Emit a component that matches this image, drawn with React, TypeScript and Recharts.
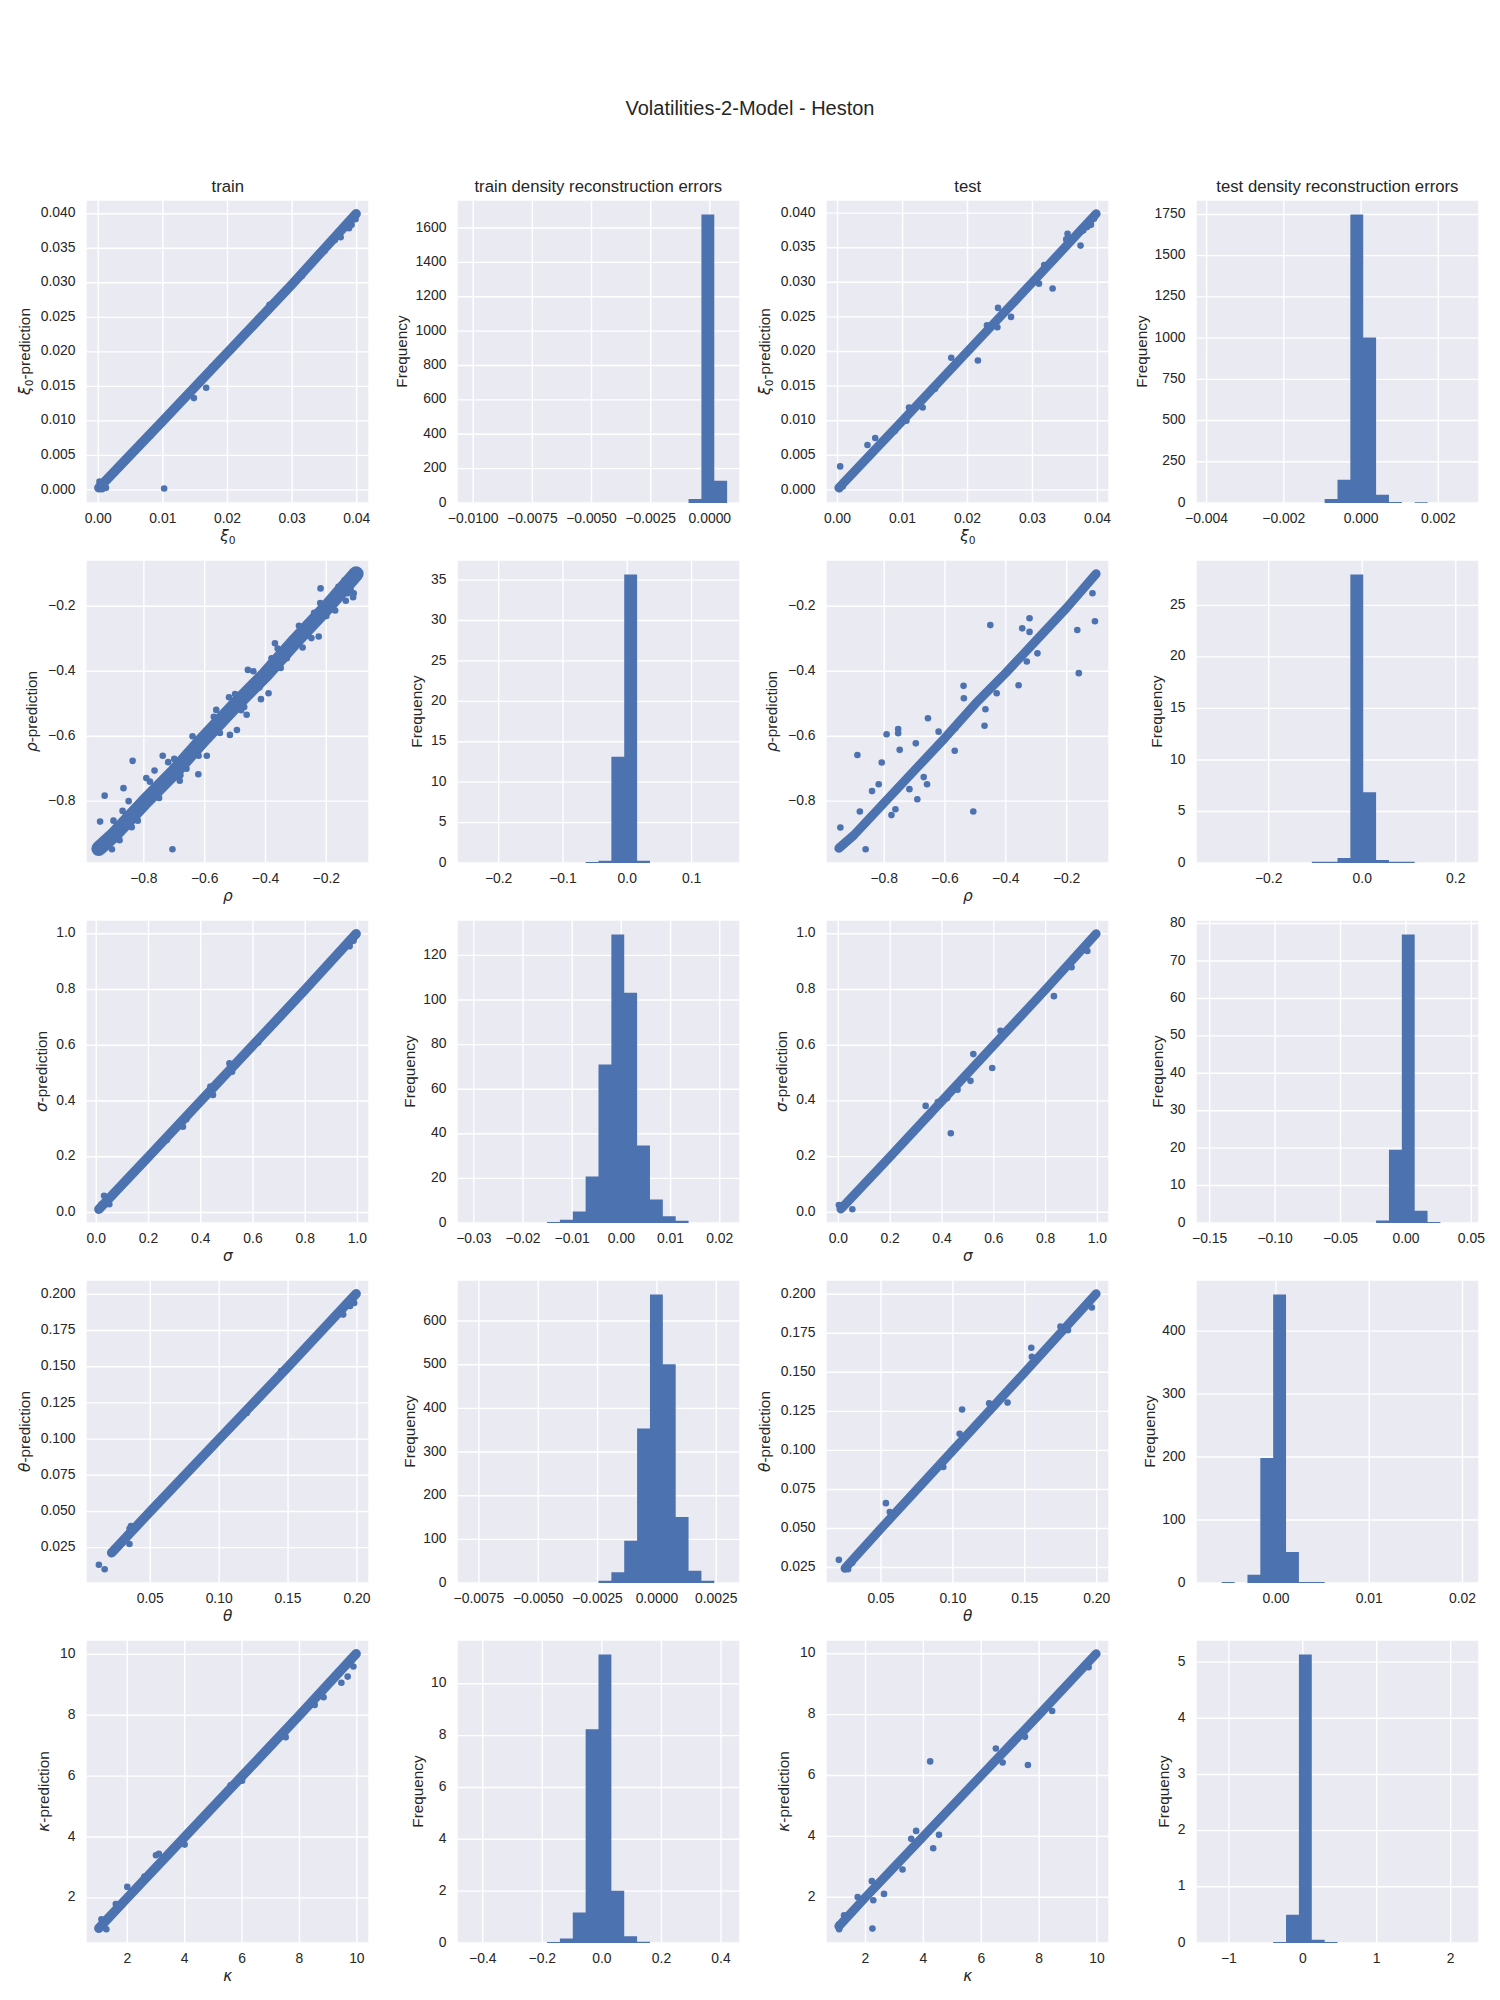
import React from 'react';
import { ComposedChart, Line, Scatter, Area, XAxis, YAxis, CartesianGrid } from 'recharts';

const BLUE = '#4C72B0';
const BG = '#EAEAF2';
const INK = '#262626';
const FONT = '"Liberation Sans", Arial, sans-serif';
const MATH = '"DejaVu Sans", sans-serif';

// ---- labels ----
const figureTitle = 'Volatilities-2-Model - Heston';
const columnTitles = ['train', 'train density reconstruction errors', 'test', 'test density reconstruction errors'];
const paramSymbols = ['ξ', 'ρ', 'σ', 'θ', 'κ'];
const paramSubscripts = ['0', '', '', '', ''];

// ---- xi0 ----
const xiTrainBand = [[0.0001, 0.0003], [0.01, 0.01], [0.02, 0.0199], [0.03, 0.0298], [0.0399, 0.04]];
const xiTrainPoints = [
  [0.0102, 0.0002], [0.0148, 0.0133], [0.0167, 0.0148], [0.0002, 0.0012], [0.0006, 0.0001], [0.0012, 0.0003],
  [0.0003, 0.0006], [0.001, 0.001], [0.0392, 0.0384], [0.0388, 0.0379], [0.0398, 0.0392], [0.0375, 0.0366],
  [0.0366, 0.0362], [0.035, 0.0346], [0.0315, 0.031], [0.0283, 0.0279], [0.0265, 0.0268], [0.0225, 0.0226],
  [0.0176, 0.0178], [0.0081, 0.0079], [0.0065, 0.0066], [0.003, 0.0033],
];
const xiTestBand = [[0.0002, 0.0003], [0.01, 0.01], [0.02, 0.02], [0.03, 0.03], [0.0398, 0.0399]];
const xiTestPoints = [
  [0.0004, 0.0034], [0.0046, 0.0065], [0.0058, 0.0075], [0.0106, 0.01], [0.011, 0.0119], [0.0131, 0.0119],
  [0.0175, 0.0191], [0.0216, 0.0187], [0.0247, 0.0263], [0.0246, 0.0235], [0.0267, 0.025], [0.031, 0.0298],
  [0.0331, 0.0291], [0.0354, 0.037], [0.0374, 0.0353], [0.0352, 0.0362], [0.0318, 0.0325], [0.023, 0.0238],
  [0.015, 0.0146], [0.0088, 0.0085], [0.0003, 0.0001], [0.0008, 0.0005], [0.0395, 0.0392], [0.039, 0.0383],
  [0.0384, 0.038], [0.0378, 0.0375],
];
const xiTrainErrRange = [-0.01014, 0.00073];
const xiTrainErrCounts = [0, 0, 0, 0, 0, 0, 0, 0, 0, 0, 0, 0, 0, 0, 0, 0, 0, 23, 1679, 130];
const xiTestErrRange = [-0.00394, 0.00272];
const xiTestErrCounts = [0, 0, 0, 0, 0, 0, 0, 0, 0, 25, 141, 1750, 1004, 50, 6, 0, 5, 0, 0, 0];

// ---- rho ----
const rhoTrainBand = [[-0.948, -0.946], [-0.9, -0.905], [-0.8, -0.805], [-0.7, -0.71], [-0.6, -0.605], [-0.5, -0.505], [-0.4, -0.41], [-0.3, -0.305], [-0.2, -0.205], [-0.102, -0.1]];
const rhoTrainPoints = [
  [-0.219, -0.145], [-0.11, -0.16], [-0.112, -0.172], [-0.136, -0.183], [-0.171, -0.213], [-0.225, -0.293],
  [-0.249, -0.298], [-0.278, -0.327], [-0.369, -0.314], [-0.458, -0.396], [-0.39, -0.468], [-0.415, -0.486],
  [-0.494, -0.581], [-0.517, -0.596], [-0.462, -0.534], [-0.562, -0.519], [-0.593, -0.66], [-0.621, -0.717],
  [-0.682, -0.737], [-0.738, -0.66], [-0.837, -0.676], [-0.792, -0.729], [-0.765, -0.706], [-0.867, -0.76],
  [-0.929, -0.783], [-0.944, -0.863], [-0.706, -0.948], [-0.905, -0.948], [-0.9, -0.86], [-0.88, -0.92],
  [-0.85, -0.8], [-0.82, -0.86], [-0.78, -0.74], [-0.75, -0.79], [-0.72, -0.68], [-0.68, -0.72], [-0.64, -0.6],
  [-0.62, -0.66], [-0.57, -0.54], [-0.55, -0.59], [-0.52, -0.48], [-0.47, -0.51], [-0.44, -0.4], [-0.42, -0.45],
  [-0.36, -0.33], [-0.33, -0.36], [-0.29, -0.26], [-0.26, -0.29], [-0.22, -0.19], [-0.18, -0.21], [-0.14, -0.12],
  [-0.12, -0.15], [-0.87, -0.83], [-0.84, -0.88], [-0.7, -0.67], [-0.66, -0.7], [-0.5, -0.47], [-0.48, -0.52],
  [-0.38, -0.36], [-0.35, -0.39], [-0.24, -0.22], [-0.2, -0.23], [-0.16, -0.14], [-0.13, -0.16],
];
const rhoTestBand = [[-0.949, -0.945], [-0.9, -0.905], [-0.8, -0.805], [-0.7, -0.705], [-0.6, -0.605], [-0.5, -0.5], [-0.4, -0.405], [-0.3, -0.305], [-0.2, -0.205], [-0.103, -0.1]];
const rhoTestPoints = [
  [-0.451, -0.258], [-0.322, -0.237], [-0.346, -0.268], [-0.322, -0.279], [-0.165, -0.273], [-0.107, -0.246],
  [-0.115, -0.16], [-0.16, -0.406], [-0.358, -0.443], [-0.331, -0.37], [-0.296, -0.345], [-0.539, -0.445],
  [-0.538, -0.483], [-0.43, -0.468], [-0.467, -0.517], [-0.47, -0.568], [-0.568, -0.645], [-0.656, -0.545],
  [-0.754, -0.578], [-0.754, -0.591], [-0.792, -0.594], [-0.749, -0.642], [-0.696, -0.622], [-0.808, -0.681],
  [-0.888, -0.658], [-0.818, -0.748], [-0.84, -0.769], [-0.88, -0.832], [-0.944, -0.881], [-0.861, -0.948],
  [-0.776, -0.843], [-0.763, -0.825], [-0.691, -0.794], [-0.67, -0.726], [-0.659, -0.748], [-0.717, -0.763],
  [-0.507, -0.832], [-0.566, -0.575], [-0.621, -0.586],
];
const rhoTrainErrRange = [-0.2447, 0.1553];
const rhoTrainErrCounts = [0, 0, 0, 0, 0, 0, 0, 0, 0, 0.12, 0.29, 13.15, 35.7, 0.29, 0, 0, 0, 0, 0, 0];
const rhoTestErrRange = [-0.3279, 0.2222];
const rhoTestErrCounts = [0, 0, 0, 0, 0, 0, 0, 0, 0.12, 0.12, 0.48, 28.0, 6.87, 0.3, 0.12, 0.12, 0, 0, 0, 0];

// ---- sigma ----
const sigmaTrainBand = [[0.01, 0.012], [0.2, 0.2], [0.4, 0.4], [0.6, 0.6], [0.8, 0.8], [0.995, 1.0]];
const sigmaTrainPoints = [
  [0.332, 0.308], [0.345, 0.335], [0.447, 0.422], [0.437, 0.452], [0.51, 0.535], [0.52, 0.505], [0.03, 0.06],
  [0.02, 0.03], [0.05, 0.03], [0.985, 0.975], [0.97, 0.955], [0.27, 0.26], [0.62, 0.61],
];
const sigmaTestBand = [[0.01, 0.012], [0.2, 0.2], [0.4, 0.4], [0.6, 0.6], [0.8, 0.8], [0.995, 1.0]];
const sigmaTestPoints = [
  [0.337, 0.382], [0.369, 0.37], [0.352, 0.347], [0.434, 0.284], [0.51, 0.472], [0.521, 0.568], [0.594, 0.518],
  [0.832, 0.776], [0.626, 0.652], [0.384, 0.396], [0.054, 0.011], [0.002, 0.026], [0.961, 0.938], [0.42, 0.41],
  [0.46, 0.44], [0.9, 0.88],
];
const sigmaTrainErrRange = [-0.0308, 0.0215];
const sigmaTrainErrCounts = [0, 0, 0, 0, 0, 0, 0.45, 1.5, 5.2, 20.9, 71.1, 129.4, 103.2, 34.7, 10.5, 3.0, 1.0, 0, 0, 0];
const sigmaTestErrRange = [-0.1506, 0.046];
const sigmaTestErrCounts = [0, 0, 0, 0, 0, 0, 0, 0, 0, 0, 0, 0, 0, 0.7, 19.6, 77.1, 3.3, 0.27, 0, 0];

// ---- theta ----
const thetaTrainBand = [[0.022, 0.0215], [0.05, 0.05], [0.1, 0.1], [0.15, 0.15], [0.1994, 0.2004]];
const thetaTrainPoints = [
  [0.0127, 0.0132], [0.0169, 0.0101], [0.0349, 0.0275], [0.035, 0.038], [0.036, 0.04], [0.028, 0.027],
  [0.025, 0.024], [0.195, 0.192], [0.198, 0.194], [0.19, 0.186], [0.12, 0.118], [0.145, 0.147],
];
const thetaTestBand = [[0.025, 0.0245], [0.05, 0.05], [0.1, 0.1], [0.15, 0.15], [0.1996, 0.2003]];
const thetaTestPoints = [
  [0.0207, 0.0299], [0.0271, 0.0239], [0.0534, 0.0662], [0.0561, 0.0605], [0.1064, 0.1262], [0.138, 0.1306],
  [0.1545, 0.1657], [0.1549, 0.16], [0.1748, 0.1793], [0.0933, 0.0894], [0.1252, 0.1302], [0.1966, 0.1915],
  [0.1047, 0.1106], [0.03, 0.028], [0.18, 0.177],
];
const thetaTrainErrRange = [-0.00788, 0.00296];
const thetaTrainErrCounts = [0, 0, 0, 0, 0, 0, 0, 0, 0, 0, 5.4, 24.5, 97, 354, 661, 501, 151, 28, 5.4, 0];
const thetaTestErrRange = [-0.00719, 0.02039];
const thetaTestErrCounts = [0, 1.6, 0, 13.2, 198.7, 458.3, 49.3, 1.6, 1.6, 0, 0, 0, 0, 0, 0, 0, 0, 0, 0, 0];

// ---- kappa ----
const kappaTrainBand = [[1.01, 1.0], [2, 2], [4, 4], [6, 6], [8, 8], [9.975, 10.02]];
const kappaTrainPoints = [
  [9.46, 9.07], [9.88, 9.6], [9.68, 9.27], [8.84, 8.59], [8.53, 8.34], [7.52, 7.28], [3.0, 3.4], [3.1, 3.45],
  [2.0, 2.36], [1.27, 0.97], [1.02, 0.97], [1.1, 1.3], [1.6, 1.8], [2.6, 2.7], [4.0, 3.75], [5.6, 5.7], [6.0, 5.85],
];
const kappaTestBand = [[1.08, 1.05], [2, 2], [4, 4], [6, 6], [8, 8], [9.97, 10.0]];
const kappaTestPoints = [
  [4.235, 6.464], [7.613, 6.344], [6.504, 6.89], [6.74, 6.43], [4.54, 4.05], [4.34, 3.61], [3.75, 4.18],
  [3.58, 3.92], [3.28, 2.91], [2.64, 2.11], [2.24, 0.97], [2.27, 1.9], [2.22, 2.53], [1.73, 2.01], [1.26, 1.41],
  [1.08, 1.1], [1.09, 0.95], [7.51, 7.27], [8.45, 8.12], [9.71, 9.56], [7.86, 7.87],
];
const kappaTrainErrRange = [-0.4433, 0.4205];
const kappaTrainErrCounts = [0, 0, 0, 0, 0, 0, 0.04, 0.17, 1.18, 8.24, 11.13, 2.02, 0.26, 0.05, 0, 0, 0, 0, 0, 0];
const kappaTestErrRange = [-1.271, 2.21];
const kappaTestErrCounts = [0, 0, 0, 0, 0, 0.02, 0.505, 5.137, 0.06, 0.02, 0, 0, 0, 0, 0, 0, 0, 0, 0, 0];

// ---- ticks ----
const xiTicks = [0, 0.01, 0.02, 0.03, 0.04];
const xiPredTicks = [0, 0.005, 0.01, 0.015, 0.02, 0.025, 0.03, 0.035, 0.04];
const rhoTicks = [-0.8, -0.6, -0.4, -0.2];
const sigmaTicks = [0, 0.2, 0.4, 0.6, 0.8, 1.0];
const thetaTicks = [0.05, 0.1, 0.15, 0.2];
const thetaPredTicks = [0.025, 0.05, 0.075, 0.1, 0.125, 0.15, 0.175, 0.2];
const kappaTicks = [2, 4, 6, 8, 10];

// layout
const COL_LEFT = [86.3, 456.8, 826.3, 1195.9];
const ROW_TOP = [200, 560, 920, 1280, 1640];
const PLOT_W = 283;
const PLOT_H = 303;
const YW = 80;
const XH = 30;
const PAD = 10;
const LABEL_OFFSET = [
  [60.8, 54.1, 60.8, 53.2],
  [53.8, 39.2, 53.8, 38.3],
  [43.9, 46.5, 43.9, 37.9],
  [61.3, 46.5, 61.3, 45.6],
  [41.4, 38.8, 41.4, 31.1],
];

const padded = (vals: number[]) => {
  const lo = Math.min(...vals);
  const hi = Math.max(...vals);
  const r = hi - lo;
  return [lo - r * 0.05, hi + r * 0.05];
};

const scatterPanel = (band: number[][], pts: number[][], bandWidth: number, xTicks: number[], yTicks: number[], xDec: number, yDec: number) => {
  const all = band.concat(pts);
  return {
    kind: 'scatter',
    band: band.map(([x, y]) => ({ x, y })),
    points: pts.map(([x, y]) => ({ x, y })),
    bandWidth,
    xDomain: padded(all.map((p) => p[0])),
    yDomain: padded(all.map((p) => p[1])),
    xTicks, yTicks, xDec, yDec,
  };
};

const histPanel = (range: number[], counts: number[], xTicks: number[], yTicks: number[], xDec: number) => {
  const [lo, hi] = range;
  const w = (hi - lo) / counts.length;
  const steps = counts.map((c, i) => ({ x: lo + i * w, y: c }));
  steps.push({ x: hi, y: counts[counts.length - 1] });
  return {
    kind: 'hist',
    steps,
    xDomain: [lo - (hi - lo) * 0.05, hi + (hi - lo) * 0.05],
    yDomain: [0, Math.max(...counts) * 1.05],
    xTicks, yTicks, xDec, yDec: 0,
  };
};

const rows = [
  [
    scatterPanel(xiTrainBand, xiTrainPoints, 9.5, xiTicks, xiPredTicks, 2, 3),
    histPanel(xiTrainErrRange, xiTrainErrCounts, [-0.01, -0.0075, -0.005, -0.0025, 0], [0, 200, 400, 600, 800, 1000, 1200, 1400, 1600], 4),
    scatterPanel(xiTestBand, xiTestPoints, 9, xiTicks, xiPredTicks, 2, 3),
    histPanel(xiTestErrRange, xiTestErrCounts, [-0.004, -0.002, 0, 0.002], [0, 250, 500, 750, 1000, 1250, 1500, 1750], 3),
  ],
  [
    scatterPanel(rhoTrainBand, rhoTrainPoints, 15, rhoTicks, rhoTicks, 1, 1),
    histPanel(rhoTrainErrRange, rhoTrainErrCounts, [-0.2, -0.1, 0, 0.1], [0, 5, 10, 15, 20, 25, 30, 35], 1),
    scatterPanel(rhoTestBand, rhoTestPoints, 9, rhoTicks, rhoTicks, 1, 1),
    histPanel(rhoTestErrRange, rhoTestErrCounts, [-0.2, 0, 0.2], [0, 5, 10, 15, 20, 25], 1),
  ],
  [
    scatterPanel(sigmaTrainBand, sigmaTrainPoints, 9.5, sigmaTicks, sigmaTicks, 1, 1),
    histPanel(sigmaTrainErrRange, sigmaTrainErrCounts, [-0.03, -0.02, -0.01, 0, 0.01, 0.02], [0, 20, 40, 60, 80, 100, 120], 2),
    scatterPanel(sigmaTestBand, sigmaTestPoints, 9, sigmaTicks, sigmaTicks, 1, 1),
    histPanel(sigmaTestErrRange, sigmaTestErrCounts, [-0.15, -0.1, -0.05, 0, 0.05], [0, 10, 20, 30, 40, 50, 60, 70, 80], 2),
  ],
  [
    scatterPanel(thetaTrainBand, thetaTrainPoints, 9.5, thetaTicks, thetaPredTicks, 2, 3),
    histPanel(thetaTrainErrRange, thetaTrainErrCounts, [-0.0075, -0.005, -0.0025, 0, 0.0025], [0, 100, 200, 300, 400, 500, 600], 4),
    scatterPanel(thetaTestBand, thetaTestPoints, 9, thetaTicks, thetaPredTicks, 2, 3),
    histPanel(thetaTestErrRange, thetaTestErrCounts, [0, 0.01, 0.02], [0, 100, 200, 300, 400], 2),
  ],
  [
    scatterPanel(kappaTrainBand, kappaTrainPoints, 9.5, kappaTicks, kappaTicks, 0, 0),
    histPanel(kappaTrainErrRange, kappaTrainErrCounts, [-0.4, -0.2, 0, 0.2, 0.4], [0, 2, 4, 6, 8, 10], 1),
    scatterPanel(kappaTestBand, kappaTestPoints, 9, kappaTicks, kappaTicks, 0, 0),
    histPanel(kappaTestErrRange, kappaTestErrCounts, [-1, 0, 1, 2], [0, 1, 2, 3, 4, 5], 0),
  ],
];

const fmt = (v: number, d: number) => {
  const s = Math.abs(v) < 1e-12 ? (0).toFixed(d) : v.toFixed(d);
  return s.replace('-', '\u2212');
};

const Dot = (p: any) => <circle cx={p.cx} cy={p.cy} r={3.3} fill={BLUE} />;

function Panel({ spec, left, top }: any) {
  const width = YW + PLOT_W + PAD;
  const height = PAD + PLOT_H + XH;
  const xTick = (p: any) => (
    <text x={p.x} y={PAD + PLOT_H + 20} textAnchor="middle" fill={INK} fontSize={13.9} fontFamily={FONT}>
      {fmt(p.payload.value, spec.xDec)}
    </text>
  );
  const yTick = (p: any) => (
    <text x={YW - 10.5} y={p.y} dy="0.26em" textAnchor="end" fill={INK} fontSize={13.9} fontFamily={FONT}>
      {fmt(p.payload.value, spec.yDec)}
    </text>
  );
  return (
    <div style={{ position: 'absolute', left: left - YW, top: top - PAD }}>
      <ComposedChart
        width={width}
        height={height}
        data={spec.kind === 'hist' ? spec.steps : spec.band}
        margin={{ top: PAD, right: PAD, bottom: 0, left: 0 }}
      >
        <CartesianGrid fill={BG} fillOpacity={1} stroke="#ffffff" strokeWidth={1.4} />
        <XAxis
          type="number"
          dataKey="x"
          domain={spec.xDomain}
          ticks={spec.xTicks}
          interval={0}
          allowDataOverflow
          axisLine={false}
          tickLine={false}
          height={XH}
          tick={xTick}
        />
        <YAxis
          type="number"
          dataKey="y"
          domain={spec.yDomain}
          ticks={spec.yTicks}
          interval={0}
          allowDataOverflow
          axisLine={false}
          tickLine={false}
          width={YW}
          tick={yTick}
        />
        {spec.kind === 'hist' ? (
          <Area
            dataKey="y"
            type="stepAfter"
            fill={BLUE}
            fillOpacity={1}
            stroke="none"
            baseValue={0}
            dot={false}
            activeDot={false}
            isAnimationActive={false}
          />
        ) : (
          <Line
            dataKey="y"
            type="linear"
            stroke={BLUE}
            strokeWidth={spec.bandWidth}
            strokeLinecap="round"
            strokeLinejoin="round"
            dot={false}
            activeDot={false}
            isAnimationActive={false}
          />
        )}
        {spec.kind === 'scatter' && (
          <Scatter data={spec.points} dataKey="y" fill={BLUE} shape={Dot} isAnimationActive={false} />
        )}
      </ComposedChart>
    </div>
  );
}

function YLabel({ x, y, row, hist }: any) {
  return (
    <text x={x} y={y} dy="0.3em" transform={`rotate(-90 ${x} ${y})`} textAnchor="middle" fontFamily={FONT} fill={INK} fontSize={15.3}>
      {hist ? (
        'Frequency'
      ) : (
        <>
          <tspan fontFamily={MATH} fontStyle="italic">{paramSymbols[row]}</tspan>
          {paramSubscripts[row] && (
            <tspan fontFamily={MATH} fontSize={10.7} dy={3}>{paramSubscripts[row]}</tspan>
          )}
          <tspan dy={paramSubscripts[row] ? -3 : 0}>-prediction</tspan>
        </>
      )}
    </text>
  );
}

function XLabel({ x, y, row }: any) {
  return (
    <text x={x} y={y} textAnchor="middle" fill={INK} fontSize={15.3} fontFamily={MATH}>
      <tspan fontStyle="italic">{paramSymbols[row]}</tspan>
      {paramSubscripts[row] && <tspan fontSize={10.7} dy={3}>{paramSubscripts[row]}</tspan>}
    </text>
  );
}

export default function App() {
  return (
    <div style={{ position: 'absolute', left: 0, top: 0, width: 1500, height: 2000, background: '#ffffff' }}>
      {rows.map((row, r) =>
        row.map((spec, c) => <Panel key={`${r}-${c}`} spec={spec} left={COL_LEFT[c]} top={ROW_TOP[r]} />)
      )}
      <svg width={1500} height={2000} style={{ position: 'absolute', left: 0, top: 0, pointerEvents: 'none' }}>
        <text x={750} y={114.5} textAnchor="middle" fill={INK} fontSize={20} fontFamily={FONT}>
          {figureTitle}
        </text>
        {columnTitles.map((t, c) => (
          <text key={t} x={COL_LEFT[c] + PLOT_W / 2} y={ROW_TOP[0] - 8.3} textAnchor="middle" fill={INK} fontSize={16.7} fontFamily={FONT}>
            {t}
          </text>
        ))}
        {rows.map((row, r) =>
          row.map((spec, c) => (
            <g key={`l-${r}-${c}`}>
              <YLabel x={COL_LEFT[c] - LABEL_OFFSET[r][c]} y={ROW_TOP[r] + PLOT_H / 2} row={r} hist={spec.kind === 'hist'} />
              {spec.kind === 'scatter' && <XLabel x={COL_LEFT[c] + PLOT_W / 2} y={ROW_TOP[r] + PLOT_H + 38} row={r} />}
            </g>
          ))
        )}
      </svg>
    </div>
  );
}
